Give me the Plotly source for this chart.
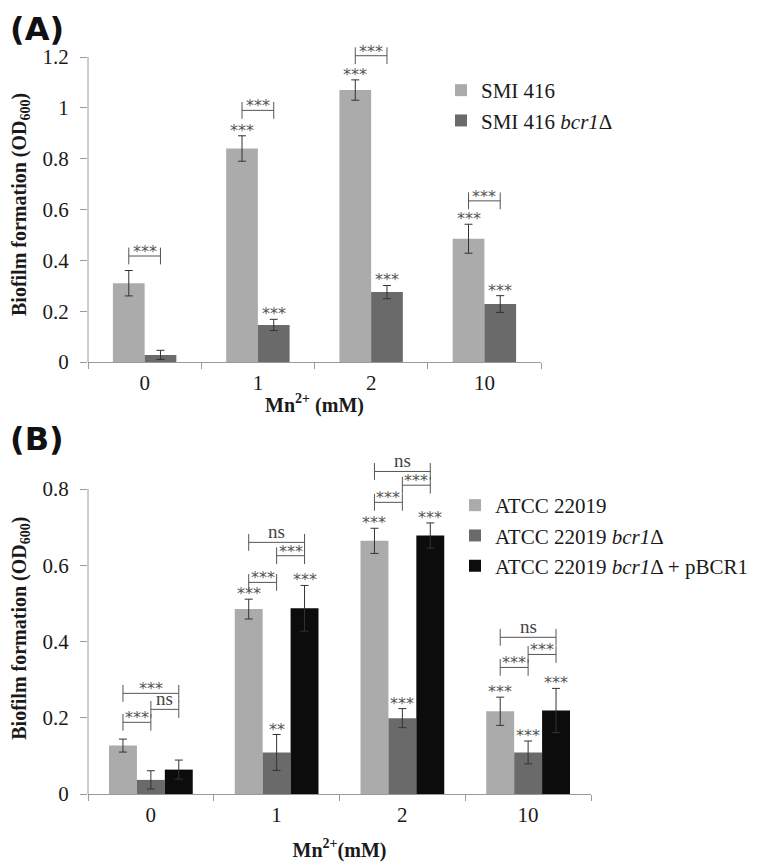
import plotly.graph_objects as go

# ---------------- data ----------------
mn_labels = ["0", "1", "2", "10"]

# Panel A
smi416 = [0.31, 0.84, 1.07, 0.485]
smi416_err = [0.05, 0.05, 0.04, 0.057]
smi416_bcr1 = [0.028, 0.146, 0.275, 0.228]
smi416_bcr1_err = [0.018, 0.022, 0.026, 0.033]
a_stars_wt = ["", "***", "***", "***"]
a_stars_mut = ["", "***", "***", "***"]
a_bracket_y = [0.417, 0.99, 1.205, 0.634]
a_bracket_txt = ["***", "***", "***", "***"]

# Panel B
atcc = [0.127, 0.485, 0.664, 0.217]
atcc_err = [0.017, 0.026, 0.033, 0.037]
atcc_bcr1 = [0.037, 0.109, 0.199, 0.109]
atcc_bcr1_err = [0.024, 0.047, 0.025, 0.030]
atcc_pbcr1 = [0.064, 0.487, 0.678, 0.219]
atcc_pbcr1_err = [0.025, 0.060, 0.033, 0.058]
b_stars_wt = ["", "***", "***", "***"]
b_stars_mut = ["", "**", "***", "***"]
b_stars_comp = ["", "***", "***", "***"]
b_br12_y = [0.188, 0.555, 0.765, 0.332]
b_br12_txt = ["***", "***", "***", "***"]
b_br23_y = [0.222, 0.625, 0.810, 0.366]
b_br23_txt = ["ns", "***", "***", "***"]
b_br13_y = [0.264, 0.660, 0.846, 0.411]
b_br13_txt = ["***", "ns", "ns", "ns"]

a_ticks = [0, 0.2, 0.4, 0.6, 0.8, 1.0, 1.2]
a_ticktext = ["0", "0.2", "0.4", "0.6", "0.8", "1", "1.2"]
b_ticks = [0, 0.2, 0.4, 0.6, 0.8]
b_ticktext = ["0", "0.2", "0.4", "0.6", "0.8"]

# ---------------- style ----------------
C_LIGHT = "#ababab"
C_DARK = "#6a6a6a"
C_BLACK = "#0c0c0c"
AX = "#9a9a9a"
TXT = "#1a1a1a"
STAR = "#555555"
SERIF = "Liberation Serif"
SANS = "DejaVu Sans"

# page body has an 8px default margin; figure is sized/placed to compensate
PAGE_W, PAGE_H, OFF = 761, 865, 8
W, H = PAGE_W - OFF, PAGE_H - OFF


def px_x(x):
    return (x - OFF) / W


def px_y(y):
    return 1 - (y - OFF) / H


idx = list(range(len(mn_labels)))

fig = go.Figure()
annotations = []
shapes = []


def add_bars(vals, errs, color, name, offset, width, xa, ya, legend):
    fig.add_trace(go.Bar(
        x=idx, y=vals, name=name, marker=dict(color=color, line=dict(width=0)),
        width=width, offset=offset, xaxis=xa, yaxis=ya, legend=legend,
        error_y=dict(type="data", array=errs, color="#333333", thickness=1, width=4),
        hoverinfo="skip"))
    return [i + offset + width / 2 for i in idx]


def add_stars(xs, vals, errs, labels, xr, yr):
    for x, v, e, t in zip(xs, vals, errs, labels):
        if t:
            annotations.append(dict(x=x, y=v + e, xref=xr, yref=yr, text=t, showarrow=False,
                                    yanchor="bottom", yshift=-6,
                                    font=dict(family=SANS, size=16, color=STAR)))


def add_bracket(x0s, x1s, ys, labels, xa, ya, xr, yr):
    for a, b, y, t in zip(x0s, x1s, ys, labels):
        fig.add_trace(go.Scatter(
            x=[a, b], y=[y, y], mode="lines+markers", xaxis=xa, yaxis=ya,
            line=dict(color="#555555", width=1),
            marker=dict(symbol="line-ns-open", size=12, line=dict(color="#555555", width=1)),
            cliponaxis=False, showlegend=False, hoverinfo="skip"))
        if t == "ns":
            f = dict(family=SERIF, size=19, color="#444444")
            ys_ = -2
        else:
            f = dict(family=SANS, size=16, color=STAR)
            ys_ = -7
        annotations.append(dict(x=(a + b) / 2, y=y, xref=xr, yref=yr, text=t, showarrow=False,
                                yanchor="bottom", yshift=ys_, font=f))


# Panel A
wa = 0.28
xa1 = add_bars(smi416, smi416_err, C_LIGHT, "SMI 416", -wa, wa, "x", "y", "legend")
xa2 = add_bars(smi416_bcr1, smi416_bcr1_err, C_DARK, "SMI 416 <i>bcr1</i>Δ", 0.0, wa, "x", "y", "legend")
add_stars(xa1, smi416, smi416_err, a_stars_wt, "x", "y")
add_stars(xa2, smi416_bcr1, smi416_bcr1_err, a_stars_mut, "x", "y")
add_bracket(xa1, xa2, a_bracket_y, a_bracket_txt, "x", "y", "x", "y")

# Panel B
wb = 0.222
xb1 = add_bars(atcc, atcc_err, C_LIGHT, "ATCC 22019", -1.5 * wb, wb, "x2", "y2", "legend2")
xb2 = add_bars(atcc_bcr1, atcc_bcr1_err, C_DARK, "ATCC 22019 <i>bcr1</i>Δ", -0.5 * wb, wb, "x2", "y2", "legend2")
xb3 = add_bars(atcc_pbcr1, atcc_pbcr1_err, C_BLACK, "ATCC 22019 <i>bcr1</i>Δ + pBCR1", 0.5 * wb, wb, "x2", "y2", "legend2")
add_stars(xb1, atcc, atcc_err, b_stars_wt, "x2", "y2")
add_stars(xb2, atcc_bcr1, atcc_bcr1_err, b_stars_mut, "x2", "y2")
add_stars(xb3, atcc_pbcr1, atcc_pbcr1_err, b_stars_comp, "x2", "y2")
add_bracket(xb1, xb2, b_br12_y, b_br12_txt, "x2", "y2", "x2", "y2")
add_bracket(xb2, xb3, b_br23_y, b_br23_txt, "x2", "y2", "x2", "y2")
add_bracket(xb1, xb3, b_br13_y, b_br13_txt, "x2", "y2", "x2", "y2")

# panel letters
for lbl, ytop in (("(A)", 8), ("(B)", 418)):
    annotations.append(dict(x=0.0, y=px_y(ytop), xref="paper", yref="paper", text="<b>%s</b>" % lbl,
                            showarrow=False, xanchor="left", yanchor="top",
                            font=dict(family=SANS, size=32, color="#111111")))

boundaries = [i - 0.5 for i in range(len(mn_labels) + 1)]


def xaxis_cfg(domain, title, anchor, standoff):
    return dict(domain=domain, range=[-0.5, len(mn_labels) - 0.5], showline=True, linecolor=AX,
                linewidth=1, tickmode="array", tickvals=idx, ticktext=mn_labels, ticks="",
                showgrid=False, zeroline=False, fixedrange=True, ticklabelstandoff=2,
                automargin=False, anchor=anchor,
                tickfont=dict(family=SERIF, size=21, color=TXT),
                minor=dict(tickmode="array", tickvals=boundaries, ticks="outside", ticklen=6,
                           tickcolor=AX, tickwidth=1, showgrid=False),
                title=dict(text=title, font=dict(family=SERIF, size=20, color=TXT), standoff=standoff))


def yaxis_cfg(px_bottom, px_top_tick, ticks, texts, top_val, anchor, yref):
    # y axis range extended a bit above the top tick so brackets above it remain visible;
    # the visible axis line stops at the top tick like in the original chart
    per_unit = (px_bottom - px_top_tick) / ticks[-1]
    px_top = px_bottom - top_val * per_unit
    shapes.append(dict(type="line", xref="paper", yref=yref,
                       x0=px_x(88), x1=px_x(88), y0=ticks[0], y1=ticks[-1],
                       line=dict(color=AX, width=1)))
    return dict(domain=[px_y(px_bottom), px_y(px_top)], range=[0, top_val], showline=False,
                tickmode="array", tickvals=ticks, ticktext=texts, ticks="outside", ticklen=7,
                tickcolor=AX, showgrid=False, zeroline=False, anchor=anchor, ticklabelstandoff=7,
                automargin=False,
                tickfont=dict(family=SERIF, size=21, color=TXT),
                title=dict(text="<b>Biofilm formation (OD<sub>600</sub>)</b>",
                           font=dict(family=SERIF, size=20, color=TXT), standoff=13))


yA = yaxis_cfg(362, 57, a_ticks, a_ticktext, 1.24, "x", "y")
yB = yaxis_cfg(794, 489, b_ticks, b_ticktext, 0.87, "x2", "y2")

fig.update_layout(
    width=W, height=H, margin=dict(l=0, r=0, t=0, b=0),
    paper_bgcolor="white", plot_bgcolor="white",
    barmode="overlay", annotations=annotations, shapes=shapes,
    xaxis=xaxis_cfg([px_x(88), px_x(541)], "<b>Mn<sup>2+</sup> (mM)</b>", "y", 3),
    yaxis=yA,
    xaxis2=xaxis_cfg([px_x(88), px_x(591)], "<b>Mn<sup>2+</sup>(mM)</b>", "y2", 16),
    yaxis2=yB,
    legend=dict(x=px_x(441), y=px_y(70), xanchor="left", yanchor="top",
                font=dict(family=SERIF, size=21, color=TXT), bgcolor="rgba(0,0,0,0)",
                traceorder="normal"),
    legend2=dict(x=px_x(455), y=px_y(485), xanchor="left", yanchor="top",
                 font=dict(family=SERIF, size=21, color=TXT), bgcolor="rgba(0,0,0,0)",
                 traceorder="normal"),
    showlegend=True,
)

fig.write_html("out.html")
